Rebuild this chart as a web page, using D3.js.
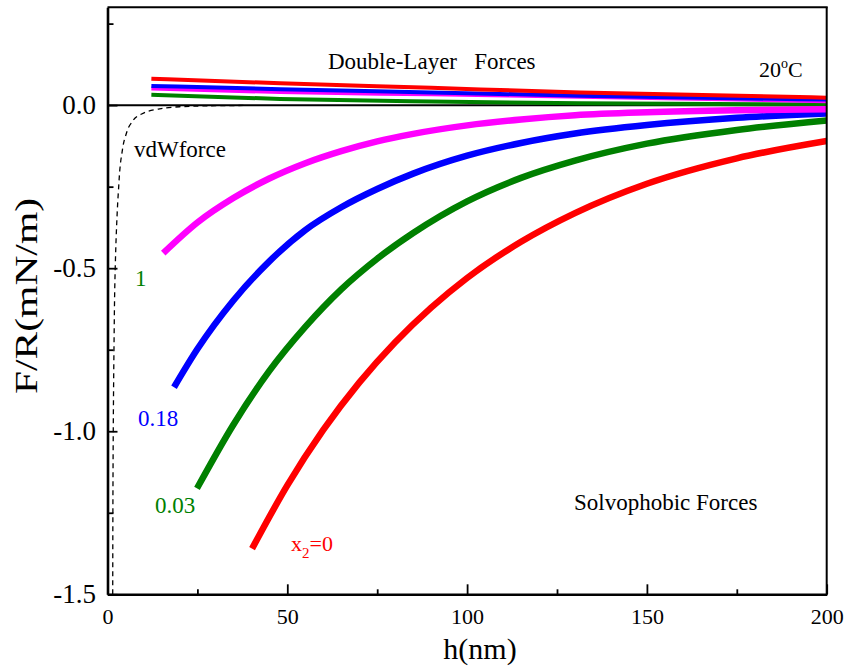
<!DOCTYPE html>
<html>
<head>
<meta charset="utf-8">
<script src="https://cdn.jsdelivr.net/npm/d3@7"></script>
<style>
  html, body { margin: 0; padding: 0; background: #fff; }
  svg { display: block; }
  text { font-family: "Liberation Serif", "Times New Roman", Times, serif; }
</style>
</head>
<body>
<svg id="chart" width="845" height="667"></svg>
<script>
// ---------- data ----------
const xTicksMajor = [0, 50, 100, 150, 200];
const xTicksMinor = [25, 75, 125, 175];
const yTicksMajor = [-1.5, -1.0, -0.5, 0.0];
const yTicksMinor = [-1.25, -0.75, -0.25, 0.25];
const yTickLabels = ["-1.5", "-1.0", "-0.5", "0.0"];

// solvophobic (attractive) forces, thick lines
const hMagentaNeg = [15.5, 25, 35, 45, 55, 65, 75, 85, 100, 115, 130, 150, 175, 200];
const fMagentaNeg = [-0.454, -0.360, -0.285, -0.225, -0.178, -0.141, -0.111, -0.088, -0.062, -0.044, -0.031, -0.022, -0.016, -0.013];

const hBlueNeg = [18.5, 25, 35, 45, 55, 65, 75, 85, 100, 115, 130, 150, 175, 200];
const fBlueNeg = [-0.865, -0.748, -0.599, -0.479, -0.383, -0.313, -0.257, -0.210, -0.155, -0.116, -0.087, -0.061, -0.039, -0.026];

const hGreenNeg = [24.9, 35, 45, 55, 65, 75, 85, 100, 115, 130, 150, 175, 200];
const fGreenNeg = [-1.175, -0.980, -0.815, -0.680, -0.565, -0.471, -0.392, -0.295, -0.223, -0.170, -0.118, -0.076, -0.047];

const hRedNeg = [40.2, 50, 60, 70, 80, 90, 100, 115, 130, 150, 175, 200];
const fRedNeg = [-1.36, -1.166, -0.996, -0.851, -0.727, -0.621, -0.530, -0.419, -0.331, -0.241, -0.163, -0.110];

// double-layer (repulsive) forces, thinner lines
const hPos = [12.2, 48, 90, 131.4, 200];
const fRedPos = [0.081, 0.067, 0.053, 0.039, 0.023];
const fBluePos = [0.059, 0.049, 0.039, 0.029, 0.017];
const fMagentaPos = [0.051, 0.040, 0.033, 0.026, 0.012];
const fGreenPos = [0.032, 0.019, 0.011, 0.006, 0.002];

// van der Waals force, dashed
const hVdw = [1.45, 1.6, 1.8, 2.1, 2.5, 3.0, 3.9, 5.0, 6.5, 9, 13.7, 20, 28, 38];
const fVdw = [-1.5, -1.0, -0.75, -0.52, -0.38, -0.27, -0.155, -0.095, -0.057, -0.030, -0.013, -0.005, -0.002, -0.001];

// ---------- layout ----------
const SERIF = '"Liberation Serif", "Times New Roman", Times, serif';
const svg = d3.select("#chart");
const X0 = 107.5, X1 = 826.7, Y0 = 594.3, Y1 = 7.3;
const x = d3.scaleLinear().domain([0, 200]).range([X0, X1]);
const y = d3.scaleLinear().domain([-1.5, 0.3]).range([Y0, Y1]);

const zip = (hs, fs) => hs.map((h, i) => [h, fs[i]]);
const line = d3.line().x(d => x(d[0])).y(d => y(d[1])).curve(d3.curveMonotoneX);

svg.append("clipPath").attr("id", "clip")
  .append("rect").attr("x", X0).attr("y", Y1).attr("width", X1 - X0).attr("height", Y0 - Y1);

const plot = svg.append("g").attr("clip-path", "url(#clip)");

// vdW dashed
plot.append("path")
  .datum(zip(hVdw, fVdw))
  .attr("d", d3.line().x(d => x(d[0])).y(d => y(d[1])).curve(d3.curveMonotoneY))
  .attr("fill", "none").attr("stroke", "#000").attr("stroke-width", 1.3)
  .attr("stroke-dasharray", "5,4");

// zero line
plot.append("line")
  .attr("x1", x(0)).attr("x2", x(200)).attr("y1", y(0)).attr("y2", y(0))
  .attr("stroke", "#000").attr("stroke-width", 2);

const pos = [
  [fGreenPos, "#008000"],
  [fMagentaPos, "#ff00ff"],
  [fBluePos, "#0000ff"],
  [fRedPos, "#ff0000"]
];
pos.forEach(([f, c]) => {
  plot.append("path").datum(zip(hPos, f)).attr("d", line)
    .attr("fill", "none").attr("stroke", c).attr("stroke-width", 4);
});

const neg = [
  [hRedNeg, fRedNeg, "#ff0000"],
  [hGreenNeg, fGreenNeg, "#008000"],
  [hBlueNeg, fBlueNeg, "#0000ff"],
  [hMagentaNeg, fMagentaNeg, "#ff00ff"]
];
neg.forEach(([h, f, c]) => {
  plot.append("path").datum(zip(h, f)).attr("d", line)
    .attr("fill", "none").attr("stroke", c).attr("stroke-width", 6.5);
});

// ---------- axes ----------
const xAxis = d3.axisBottom(x).tickValues(xTicksMajor).tickSizeInner(-10).tickSizeOuter(0).tickPadding(14)
  .tickFormat(d3.format("d"));
const gx = svg.append("g").attr("transform", `translate(0,${Y0})`).call(xAxis)
  .attr("font-family", SERIF).attr("font-size", 22);
gx.selectAll("text").attr("fill", "#000");
const gxm = svg.append("g").attr("transform", `translate(0,${Y0})`)
  .call(d3.axisBottom(x).tickValues(xTicksMinor).tickSizeInner(-5).tickSizeOuter(0).tickFormat(""));
gxm.select(".domain").remove();

const yAxis = d3.axisLeft(y).tickValues(yTicksMajor).tickSizeInner(-10).tickSizeOuter(0).tickPadding(11.5)
  .tickFormat((d, i) => yTickLabels[i]);
const gy = svg.append("g").attr("transform", `translate(${X0},0)`).call(yAxis)
  .attr("font-family", SERIF).attr("font-size", 27);
gy.selectAll("text").attr("fill", "#000");
const gym = svg.append("g").attr("transform", `translate(${X0},0)`)
  .call(d3.axisLeft(y).tickValues(yTicksMinor).tickSizeInner(-6).tickSizeOuter(0).tickFormat(""));
gym.select(".domain").remove();

[gx, gy, gxm, gym].forEach(g => {
  g.selectAll(".tick line").attr("stroke", "#000").attr("stroke-width", 1.8);
  g.selectAll(".domain").attr("stroke", "#000").attr("stroke-width", 2.6);
});

// top and right frame
svg.append("line").attr("x1", X0).attr("x2", X1 + 1).attr("y1", Y1).attr("y2", Y1)
  .attr("stroke", "#000").attr("stroke-width", 2);
svg.append("line").attr("x1", X1).attr("x2", X1).attr("y1", Y1).attr("y2", Y0 + 1)
  .attr("stroke", "#000").attr("stroke-width", 2);

// axis titles
svg.append("text").attr("x", 480).attr("y", 659).attr("text-anchor", "middle")
  .attr("font-size", 30).text("h(nm)");
svg.append("text").attr("transform", "translate(37,296) rotate(-90)").attr("text-anchor", "middle")
  .attr("font-size", 32).attr("textLength", 196).attr("lengthAdjust", "spacingAndGlyphs")
  .text("F/R(mN/m)");

// annotations
const ann = (tx, ty, s, color, size) => svg.append("text").attr("x", tx).attr("y", ty)
  .attr("font-size", size || 23).attr("fill", color || "#000").attr("xml:space", "preserve")
  .style("white-space", "pre").text(s);

ann(328, 69, "Double-Layer   Forces");
ann(134, 157, "vdWforce");
ann(574, 510, "Solvophobic Forces");
ann(135, 286, "1", "#008000");
ann(138, 426, "0.18", "#0000ff");
ann(155, 513, "0.03", "#008000");

const t20 = svg.append("text").attr("x", 759).attr("y", 77).attr("font-size", 22);
t20.append("tspan").text("20");
t20.append("tspan").attr("font-size", 14).attr("dy", -9).text("o");
t20.append("tspan").attr("dy", 9).text("C");

const tx2 = svg.append("text").attr("x", 291).attr("y", 551).attr("font-size", 22).attr("fill", "#ff0000");
tx2.append("tspan").text("x");
tx2.append("tspan").attr("font-size", 15).attr("dy", 7).text("2");
tx2.append("tspan").attr("dy", -7).text("=0");
</script>
</body>
</html>
